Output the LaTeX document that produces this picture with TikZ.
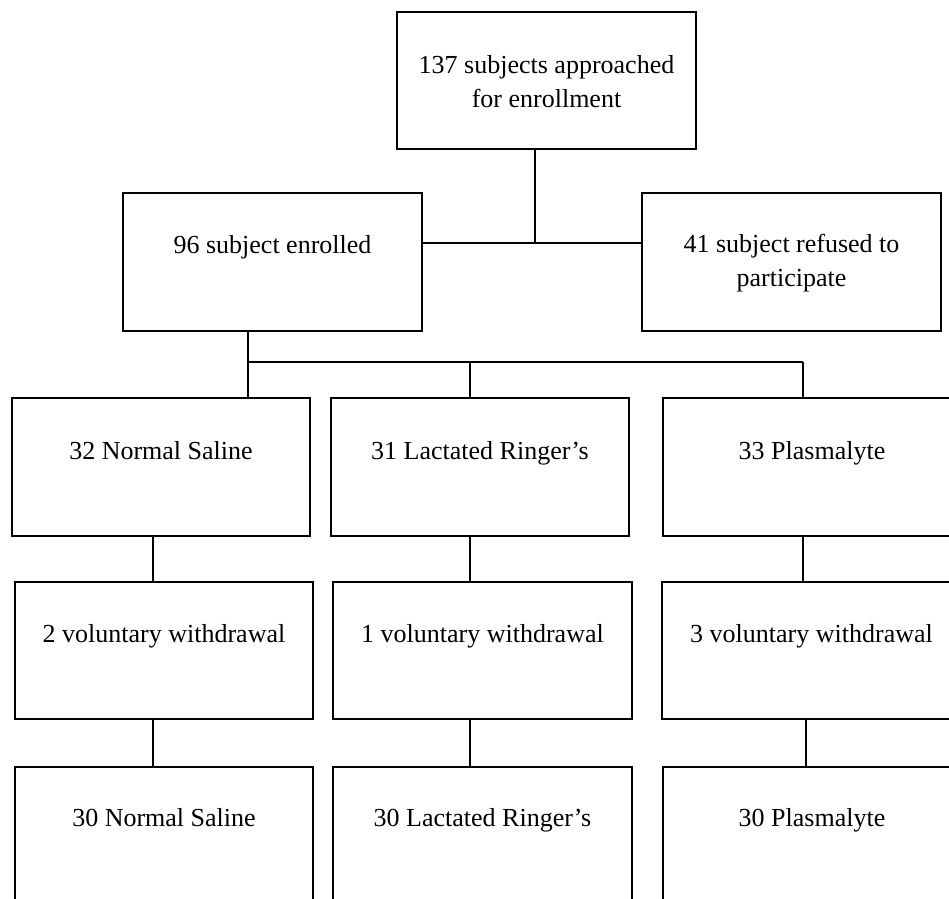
\documentclass[tikz,border=0pt]{standalone}
\usepackage{fontspec}
\setmainfont{Liberation Serif}
\begin{document}
\begin{tikzpicture}[x=1pt,y=-1pt,
  bx/.style={draw=black,line width=1.6pt,inner sep=0pt,minimum width=#1,minimum height=138pt},
  bx/.default=299pt,
  txt/.style={align=center,inner sep=0pt,font=\fontsize{26}{34}\selectfont},
  t1/.style={txt,anchor=base},
  ln/.style={line width=1.6pt}]
\useasboundingbox (0,0) rectangle (949,898);
\clip (0,0) rectangle (949,898);
\fill[white] (0,0) rectangle (949,898);
% boxes
\node[bx,minimum height=137pt] (top) at (546.5,80.5) {};
\node[bx] (enr) at (272.5,262) {};
\node[bx] (ref) at (791.5,262) {};
\node[bx=298pt] (ns1) at (161,467) {};
\node[bx=298pt] (lr1) at (480,467) {};
\node[bx=298pt] (pl1) at (812,467) {};
\node[bx=298pt,minimum height=137pt] (wd1) at (164,650.5) {};
\node[bx,minimum height=137pt] (wd2) at (482.5,650.5) {};
\node[bx,minimum height=137pt] (wd3) at (811.5,650.5) {};
\node[bx=298pt,minimum height=163pt] (ns2) at (164,848.5) {};
\node[bx,minimum height=163pt] (lr2) at (482.5,848.5) {};
\node[bx=298pt,minimum height=163pt] (pl2) at (812,848.5) {};
% texts
\node[txt] (ttop) at ([yshift=-1pt]top.center) {137 subjects approached\\for enrollment};
\node[txt] (tref) at ([yshift=-1pt]ref.center) {41 subject refused to\\participate};
\node[t1] (tenr) at ([yshift=-61pt]enr.north) {96 subject enrolled};
\node[t1] (tns1) at ([yshift=-62pt]ns1.north) {32 Normal Saline};
\node[t1] (tlr1) at ([yshift=-62pt]lr1.north) {31 Lactated Ringer’s};
\node[t1] (tpl1) at ([yshift=-62pt]pl1.north) {33 Plasmalyte};
\node[t1] (twd1) at ([yshift=-61pt]wd1.north) {2 voluntary withdrawal};
\node[t1] (twd2) at ([yshift=-61pt]wd2.north) {1 voluntary withdrawal};
\node[t1] (twd3) at ([yshift=-61pt]wd3.north) {3 voluntary withdrawal};
\node[t1] (tns2) at ([yshift=-60pt]ns2.north) {30 Normal Saline};
\node[t1] (tlr2) at ([yshift=-60pt]lr2.north) {30 Lactated Ringer’s};
\node[t1] (tpl2) at ([yshift=-60pt]pl2.north) {30 Plasmalyte};
% junction coordinates
\coordinate (j1) at (535,243);
\coordinate (j2a) at (248,362);
\coordinate (j2b) at (470,362);
\coordinate (j2c) at (803,362);
\coordinate (c1) at (152.7,0);
\coordinate (c2) at (470,0);
\coordinate (c3) at (803,0);
\coordinate (d3) at (806,0);
% connectors
\draw[ln] (top.south -| j1) -- (j1);
\draw[ln] (enr.east |- j1) -- (ref.west |- j1);
\draw[ln] (enr.south -| j2a) -- (j2a) -- (j2c);
\draw[ln] (j2a) -- (ns1.north -| j2a);
\draw[ln] (j2b) -- (lr1.north -| j2b);
\draw[ln] (j2c) -- (pl1.north -| j2c);
\draw[ln] (ns1.south -| c1) -- (wd1.north -| c1);
\draw[ln] (lr1.south -| c2) -- (wd2.north -| c2);
\draw[ln] (pl1.south -| c3) -- (wd3.north -| c3);
\draw[ln] (wd1.south -| c1) -- (ns2.north -| c1);
\draw[ln] (wd2.south -| c2) -- (lr2.north -| c2);
\draw[ln] (wd3.south -| d3) -- (pl2.north -| d3);
\end{tikzpicture}
\end{document}
